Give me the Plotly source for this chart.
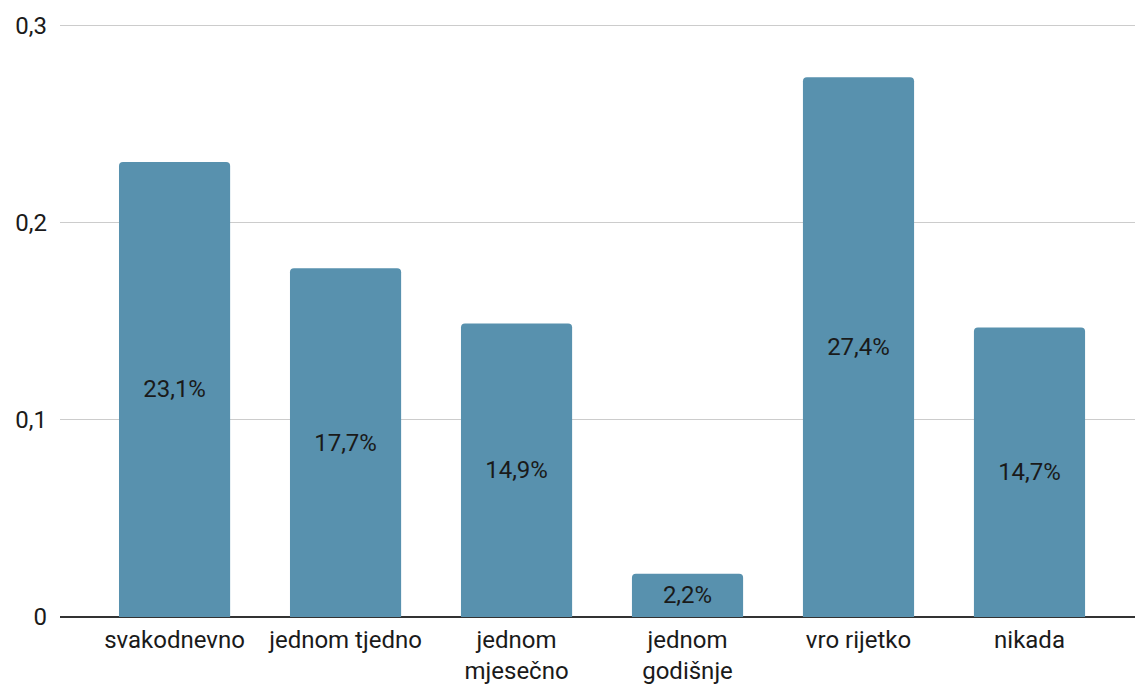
import plotly.graph_objects as go

categories = ["svakodnevno", "jednom tjedno", "jednom<br>mjesečno", "jednom<br>godišnje", "vro rijetko", "nikada"]
values = [0.231, 0.177, 0.149, 0.022, 0.274, 0.147]

fig = go.Figure(go.Bar(
    x=list(range(len(categories))),
    y=values,
    width=0.65,
    marker=dict(color="#5891AE", line=dict(width=0)),
    texttemplate="%{y:.1%}",
    textposition="inside",
    insidetextanchor="middle",
    textfont=dict(family="Roboto", size=24, color="#1a1a1a"),
    hoverinfo="skip",
))

fig.update_layout(
    width=1135, height=684,
    margin=dict(l=60, r=0, t=24, b=67),
    paper_bgcolor="white", plot_bgcolor="white",
    separators=", ",
    barcornerradius=4,
    showlegend=False,
    font=dict(family="Roboto", size=24, color="#1a1a1a"),
    xaxis=dict(
        range=[-0.67, 5.617],
        tickvals=list(range(len(categories))),
        ticktext=categories,
        showgrid=False, zeroline=False, showline=False,
        ticks="", tickfont=dict(size=24, color="#1a1a1a"),
        ticklabelstandoff=6,
    ),
    yaxis=dict(
        range=[0, 0.301],
        tickvals=[0, 0.1, 0.2, 0.3],
        tickformat=".1~f",
        showgrid=True, gridcolor="#cccccc", gridwidth=1,
        zeroline=True, zerolinecolor="#333333", zerolinewidth=2,
        showline=False, ticks="",
        tickfont=dict(size=24, color="#1a1a1a"),
        ticklabelstandoff=12,
    ),
)

fig.write_html(
    "out.html",
    config={"displayModeBar": False},
    post_script="document.body.style.margin='0';document.body.style.overflow='hidden';",
)
